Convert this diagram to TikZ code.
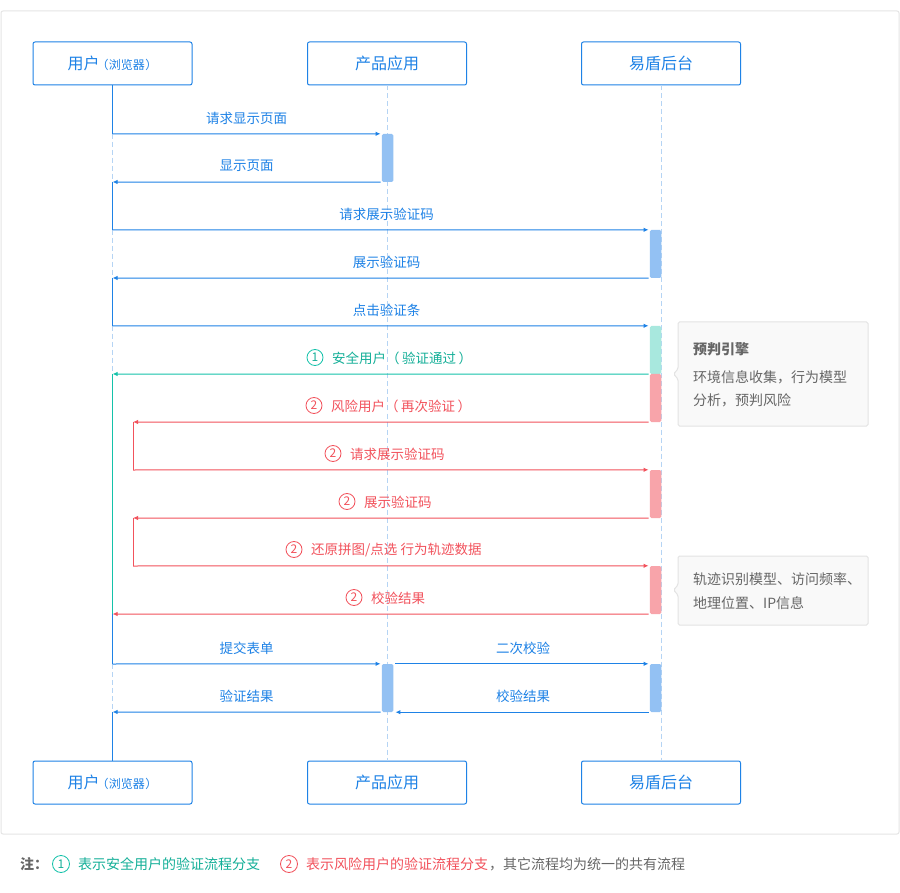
\documentclass[tikz,border=0pt]{standalone}
\usepackage{fontspec}
\setmainfont{Noto Sans CJK SC}
\usetikzlibrary{arrows.meta}
\definecolor{cblue}{HTML}{1E82E6}
\definecolor{cbar}{HTML}{93C1F3}
\definecolor{clife}{HTML}{B5D4F4}
\definecolor{cteal}{HTML}{14C2AA}
\definecolor{ctealtext}{HTML}{14AF98}
\definecolor{ctealbar}{HTML}{A8E8DE}
\definecolor{cred}{HTML}{F2525C}
\definecolor{credbar}{HTML}{F8A4AA}
\definecolor{cgray}{HTML}{666666}
\definecolor{notefill}{HTML}{F9F9F9}
\definecolor{noteline}{HTML}{E3E3E3}
\definecolor{cframe}{HTML}{E5E5E5}
\newcommand{\lp}{（\hspace{2.5pt}}
\newcommand{\rp}{\hspace{2.5pt}）}
\newcommand{\slp}{\hspace{-3pt}（\hspace{0.5pt}}
\newcommand{\srp}{\hspace{0.5pt}）}
\begin{document}
\begin{tikzpicture}[x=1pt,y=-1pt,
  actor/.style={draw=cblue,line width=1pt,rounded corners=2pt,minimum width=159pt,minimum height=43pt,inner sep=0,text=cblue,font=\fontsize{16}{18}\selectfont},
  msg/.style={line width=1pt,-{Latex[length=5pt,width=4.5pt]}},
  lbl/.style={font=\fontsize{13.5}{16}\selectfont,inner sep=0},
  lblw/.style={font=\fontsize{13.5}{16}\selectfont,inner sep=0,anchor=west},
  life/.style={draw=clife,line width=1pt,dash pattern=on 5pt off 3pt},
  actbar/.style={rectangle,rounded corners=1.5pt,inner sep=0,minimum width=11.5pt,minimum height=48pt,draw=none},
  num/.style={circle,draw,line width=0.8pt,inner sep=0,minimum size=16pt,font=\fontsize{12}{12}\selectfont},
  notebox/.style={fill=notefill,draw=noteline,line width=1pt,rounded corners=1.5pt},
  notetext/.style={font=\fontsize{14}{16}\selectfont,text=cgray,anchor=west,inner sep=0},
]
\useasboundingbox (0,0) rectangle (900,893);
\fill[white] (0,0) rectangle (900,893);
\draw[draw=cframe,line width=1pt,rounded corners=2pt] (1,11) rectangle (899,834);

% actors
\node[actor] (ut) at (112.5,63.5) {用户{\fontsize{12}{14}\selectfont\slp 浏览器\srp}};
\node[actor] (pt) at (387,63.5) {产品应用};
\node[actor] (yt) at (661,63.5) {易盾后台};
\node[actor] (ub) at (112.5,782.5) {用户{\fontsize{12}{14}\selectfont\slp 浏览器\srp}};
\node[actor] (pb) at (387,782.5) {产品应用};
\node[actor] (yb) at (661,782.5) {易盾后台};

% lifelines of product and yidun
\draw[life] (pt.south) -- (pb.north);
\draw[life] (yt.south) -- (yb.north);

% user lifeline points
\coordinate (u1) at (112.5,134);
\coordinate (u2) at (112.5,182);
\coordinate (u3) at (112.5,230);
\coordinate (u4) at (112.5,278);
\coordinate (u5) at (112.5,326);
\coordinate (u6) at (112.5,374);
\coordinate (u11) at (112.5,614);
\coordinate (u12) at (112.5,664);
\coordinate (u14) at (112.5,712);
\coordinate (r7) at (133,422);
\coordinate (r8) at (133,470);
\coordinate (r9) at (133,518);
\coordinate (r10) at (133,566);

% user lifeline
\draw[cblue,line width=1pt] (ut.south) -- (u1);
\draw[life] (u1) -- (u2);
\draw[cblue,line width=1pt] (u2) -- (u3);
\draw[life] (u3) -- (u4);
\draw[cblue,line width=1pt] (u4) -- (u5);
\draw[life] (u5) -- (u6);
\draw[cteal,line width=1pt] (u6) -- (u11);
\draw[cblue,line width=1pt] (u11) -- (u12);
\draw[life] (u12) -- (u14);
\draw[cblue,line width=1pt] (u14) -- (ub.north);

% red loop verticals
\draw[cred,line width=1pt] (r7) -- (r8);
\draw[cred,line width=1pt] (r9) -- (r10);

% activation bars
\node[actbar,fill=cbar] (b1) at (387.5,158) {};
\node[actbar,fill=cbar] (b3) at (655.5,254) {};
\node[actbar,fill=ctealbar] (b5) at (655.5,350) {};
\node[actbar,fill=credbar] (b6) at (655.5,398) {};
\node[actbar,fill=credbar] (b8) at (655.5,494) {};
\node[actbar,fill=credbar] (b10) at (655.5,590) {};
\node[actbar,fill=cbar] (b12) at (387.5,688) {};
\node[actbar,fill=cbar] (b13) at (655.5,688) {};

% messages
\draw[msg,cblue] (u1) -- ([xshift=-1pt]b1.north west);
\node[lbl,text=cblue] (t1) at (246.5,118) {请求显示页面};
\draw[msg,cblue] ([xshift=-1pt]b1.south west) -- (u2);
\node[lbl,text=cblue] (t2) at (246.5,166) {显示页面};
\draw[msg,cblue] (u3) -- ([xshift=-1pt]b3.north west);
\node[lbl,text=cblue] (t3) at (386.5,214) {请求展示验证码};
\draw[msg,cblue] ([xshift=-1pt]b3.south west) -- (u4);
\node[lbl,text=cblue] (t4) at (386.5,262) {展示验证码};
\draw[msg,cblue] (u5) -- ([xshift=-1pt]b5.north west);
\node[lbl,text=cblue] (t5) at (386.5,310) {点击验证条};

\draw[msg,cteal] ([xshift=-1pt]b5.south west) -- (u6);
\node[num,draw=cteal,text=ctealtext] (n6) at (315,357.5) {1};
\node[lblw,text=ctealtext] (t6) at (332,358) {安全用户\lp 验证通过\rp};

\draw[msg,cred] ([xshift=-1pt]b6.south west) -- (r7);
\node[num,draw=cred,text=cred] (n7) at (314,405.5) {2};
\node[lblw,text=cred] (t7) at (331,406) {风险用户\lp 再次验证\rp};

\draw[msg,cred] (r8) -- ([xshift=-1pt]b8.north west);
\node[num,draw=cred,text=cred] (n8) at (333,453.5) {2};
\node[lblw,text=cred] (t8) at (350,454) {请求展示验证码};

\draw[msg,cred] ([xshift=-1pt]b8.south west) -- (r9);
\node[num,draw=cred,text=cred] (n9) at (347,501.5) {2};
\node[lblw,text=cred] (t9) at (364,502) {展示验证码};

\draw[msg,cred] (r10) -- ([xshift=-1pt]b10.north west);
\node[num,draw=cred,text=cred] (n10) at (294,549.5) {2};
\node[lblw,text=cred] (t10) at (311,550) {还原拼图/点选 行为轨迹数据};

\draw[msg,cred] ([xshift=-1pt]b10.south west) -- (u11);
\node[num,draw=cred,text=cred] (n11) at (354,597.5) {2};
\node[lblw,text=cred] (t11) at (371,598) {校验结果};

\draw[msg,cblue] (u12) -- ([xshift=-1pt]b12.north west);
\node[lbl,text=cblue] (t12) at (246.5,648) {提交表单};
\draw[msg,cblue,shorten <=2pt] (b12.north east) -- ([xshift=-1pt]b13.north west);
\node[lbl,text=cblue] (t13) at (523,648) {二次校验};
\draw[msg,cblue] ([xshift=-1pt]b12.south west) -- (u14);
\node[lbl,text=cblue] (t14) at (246.5,696) {验证结果};
\draw[msg,cblue] ([xshift=-1pt]b13.south west) -- ([xshift=2pt]b12.south east);
\node[lbl,text=cblue] (t15) at (523,696) {校验结果};

% notes
\draw[notebox] (678,322) -- (868,322) -- (868,426) -- (678,426) -- (678,379) -- (673.5,374) -- (678,369) -- cycle;
\node[notetext,font=\fontsize{14}{16}\selectfont\bfseries] (nt1) at (693,349) {预判引擎};
\node[notetext] (nt2) at (693,377) {环境信息收集，行为模型};
\node[notetext] (nt3) at (693,400.5) {分析，预判风险};

\draw[notebox] (678,556) -- (868,556) -- (868,625) -- (678,625) -- (678,595) -- (673.5,590) -- (678,585) -- cycle;
\node[notetext] (nt4) at (693,579) {轨迹识别模型、访问频率、};
\node[notetext] (nt5) at (693,603) {地理位置、IP信息};

% legend
\node[notetext,font=\fontsize{14}{16}\selectfont\bfseries] (lg0) at (20,864) {注：};
\node[num,draw=cteal,text=ctealtext,minimum size=17pt] (lg1) at (61,864) {1};
\node[notetext,text=ctealtext] (lg2) at (78,864) {表示安全用户的验证流程分支};
\node[num,draw=cred,text=cred,minimum size=17pt] (lg3) at (289,864) {2};
\node[notetext,text=cred] (lg4) at (306,864) {表示风险用户的验证流程分支};
\node[notetext] (lg5) at (489,864) {，其它流程均为统一的共有流程};
\end{tikzpicture}
\end{document}
